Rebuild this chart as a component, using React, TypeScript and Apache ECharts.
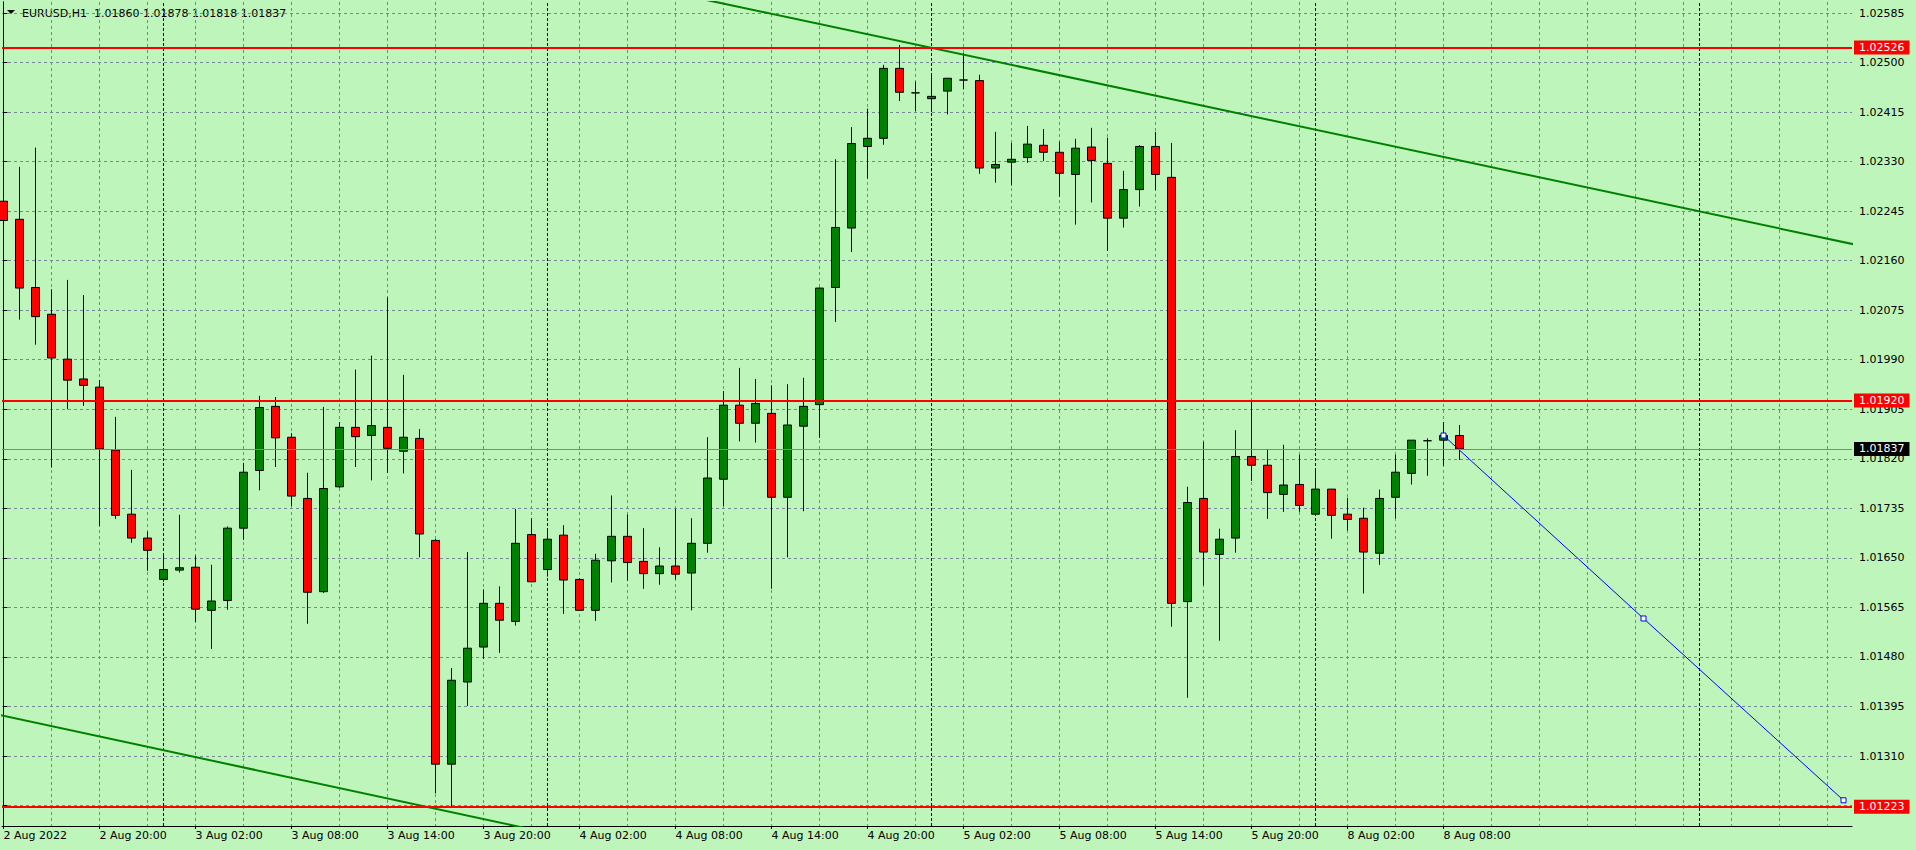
import React, { useEffect, useRef } from "react";
import * as echarts from "echarts";

// ---------- data ----------
const symbolName = "EURUSD,H1";

// bar index (0 = 2 Aug 2022 14:00, hourly bars, weekend skipped) of each time label
const xTickBars = [0, 6, 12, 18, 24, 30, 36, 42, 48, 54, 60, 66, 72, 78, 84, 90];
const xTickLabels = [
  "2 Aug 2022", "2 Aug 20:00", "3 Aug 02:00", "3 Aug 08:00", "3 Aug 14:00", "3 Aug 20:00",
  "4 Aug 02:00", "4 Aug 08:00", "4 Aug 14:00", "4 Aug 20:00", "5 Aug 02:00", "5 Aug 08:00",
  "5 Aug 14:00", "5 Aug 20:00", "8 Aug 02:00", "8 Aug 08:00",
];

const openPrices = [
  1.02262, 1.02231, 1.02114, 1.02068, 1.01991, 1.01957, 1.01943, 1.01835, 1.01725, 1.01684,
  1.01613, 1.01629, 1.01634, 1.01560, 1.01577, 1.01701, 1.01800, 1.01910, 1.01857, 1.01752,
  1.01592, 1.01772, 1.01874, 1.01860, 1.01874, 1.01833, 1.01855, 1.01680, 1.01296, 1.01437,
  1.01497, 1.01572, 1.01541, 1.01690, 1.01630, 1.01689, 1.01613, 1.01560, 1.01645, 1.01687,
  1.01644, 1.01623, 1.01636, 1.01624, 1.01675, 1.01785, 1.01912, 1.01881, 1.01898, 1.01754,
  1.01876, 1.01913, 1.02114, 1.02216, 1.02356, 1.02370, 1.02490, 1.02448, 1.02438, 1.02451,
  1.02470, 1.02469, 1.02319, 1.02329, 1.02337, 1.02358, 1.02346, 1.02308, 1.02355, 1.02327,
  1.02233, 1.02282, 1.02356, 1.02303, 1.01575, 1.01752, 1.01656, 1.01684, 1.01824, 1.01809,
  1.01759, 1.01776, 1.01725, 1.01768, 1.01725, 1.01718, 1.01658, 1.01754, 1.01795, 1.01851,
  1.01852, 1.01860,
];
const highPrices = [
  1.02424, 1.02321, 1.02354, 1.02111, 1.02127, 1.02101, 1.01955, 1.01892, 1.01801, 1.01695,
  1.01656, 1.01724, 1.01654, 1.01638, 1.01704, 1.01813, 1.01928, 1.01926, 1.01864, 1.01796,
  1.01909, 1.01883, 1.01973, 1.01997, 1.02097, 1.01964, 1.01871, 1.01682, 1.01461, 1.01660,
  1.01596, 1.01601, 1.01734, 1.01718, 1.01697, 1.01706, 1.01615, 1.01657, 1.01757, 1.01724,
  1.01701, 1.01668, 1.01734, 1.01718, 1.01857, 1.01936, 1.01976, 1.01957, 1.01946, 1.01948,
  1.01959, 1.02114, 1.02334, 1.02389, 1.02421, 1.02496, 1.02530, 1.02467, 1.02480, 1.02473,
  1.02516, 1.02479, 1.02381, 1.02362, 1.02391, 1.02386, 1.02364, 1.02369, 1.02388, 1.02371,
  1.02314, 1.02358, 1.02381, 1.02362, 1.01772, 1.01849, 1.01700, 1.01869, 1.01919, 1.01837,
  1.01844, 1.01827, 1.01801, 1.01768, 1.01753, 1.01736, 1.01767, 1.01827, 1.01852, 1.01855,
  1.01883, 1.01878,
];
const lowPrices = [
  1.02186, 1.02059, 1.02016, 1.01805, 1.01905, 1.01911, 1.01705, 1.01717, 1.01676, 1.01628,
  1.01609, 1.01625, 1.01540, 1.01494, 1.01561, 1.01681, 1.01766, 1.01806, 1.01739, 1.01537,
  1.01590, 1.01770, 1.01806, 1.01783, 1.01796, 1.01795, 1.01651, 1.01246, 1.01224, 1.01396,
  1.01477, 1.01487, 1.01534, 1.01608, 1.01618, 1.01554, 1.01559, 1.01542, 1.01608, 1.01611,
  1.01597, 1.01604, 1.01613, 1.01560, 1.01659, 1.01739, 1.01850, 1.01848, 1.01597, 1.01651,
  1.01730, 1.01856, 1.02055, 1.02175, 1.02301, 1.02359, 1.02434, 1.02417, 1.02415, 1.02411,
  1.02454, 1.02309, 1.02294, 1.02289, 1.02328, 1.02331, 1.02270, 1.02222, 1.02260, 1.02177,
  1.02217, 1.02253, 1.02281, 1.01532, 1.01410, 1.01603, 1.01508, 1.01659, 1.01782, 1.01717,
  1.01729, 1.01729, 1.01722, 1.01683, 1.01697, 1.01589, 1.01638, 1.01718, 1.01776, 1.01791,
  1.01808, 1.01818,
];
const closePrices = [
  1.02229, 1.02113, 1.02064, 1.01993, 1.01955, 1.01946, 1.01837, 1.01723, 1.01684, 1.01663,
  1.01630, 1.01633, 1.01562, 1.01576, 1.01701, 1.01797, 1.01908, 1.01856, 1.01756, 1.01591,
  1.01769, 1.01874, 1.01858, 1.01877, 1.01838, 1.01857, 1.01691, 1.01296, 1.01440, 1.01495,
  1.01572, 1.01543, 1.01675, 1.01609, 1.01682, 1.01612, 1.01560, 1.01646, 1.01687, 1.01642,
  1.01623, 1.01636, 1.01622, 1.01675, 1.01787, 1.01912, 1.01881, 1.01915, 1.01754, 1.01878,
  1.01910, 1.02113, 1.02217, 1.02361, 1.02370, 1.02490, 1.02449, 1.02448, 1.02442, 1.02473,
  1.02470, 1.02319, 1.02325, 1.02334, 1.02360, 1.02346, 1.02310, 1.02353, 1.02332, 1.02233,
  1.02282, 1.02356, 1.02308, 1.01572, 1.01745, 1.01660, 1.01682, 1.01824, 1.01809, 1.01762,
  1.01775, 1.01740, 1.01768, 1.01723, 1.01716, 1.01660, 1.01752, 1.01797, 1.01852, 1.01851,
  1.01860, 1.01837,
];

// price scale labels
const yTickValues = [
  1.01225, 1.0131, 1.01395, 1.0148, 1.01565, 1.0165, 1.01735, 1.0182, 1.01905,
  1.0199, 1.02075, 1.0216, 1.02245, 1.0233, 1.02415, 1.025, 1.02585,
];
// vertical grid every 3 bars
const gridBars = [
  0, 3, 6, 9, 12, 15, 18, 21, 24, 27, 30, 33, 36, 39, 42, 45, 48, 51, 54, 57,
  60, 63, 66, 69, 72, 75, 78, 81, 84, 87, 90, 93, 96, 99, 102, 105, 108, 111, 114,
];
// day separators (midnight bars)
const daySeparatorBars = [10, 34, 58, 82, 106];

// horizontal levels
const levelPrices = [1.02526, 1.0192, 1.01223];

// trend lines: [bar index, price]
const upperTrend = [[44, 1.02607], [116, 1.02186]];
const lowerTrend = [[-1, 1.01385], [33, 1.01184]];
const blueTrend = [[90, 1.0186], [102.5, 1.01546], [115, 1.01234]];

// ---------- layout ----------
const W = 1916;
const H = 850;
const BG = "#BEF5BA";
const FONT = "DejaVu Sans";
const X_MIN = -0.09375;
const X_MAX = 115.53125;
const Y_MIN = 1.011899;
const Y_MAX = 1.026039;

const fmt = (v: number) => v.toFixed(5);

export default function App() {
  const ref = useRef<HTMLDivElement>(null);

  useEffect(() => {
    if (!ref.current) return;
    const chart = echarts.init(ref.current, null, { renderer: "svg", width: W, height: H });
    const last = closePrices.length - 1;
    const candles = openPrices.map((o, i) => [i, o, closePrices[i], lowPrices[i], highPrices[i]]);
    const header = `${symbolName}  ${fmt(openPrices[last])} ${fmt(highPrices[last])} ${fmt(lowPrices[last])} ${fmt(closePrices[last])}`;

    const boxLabel = (bg: string, value: number) => ({
      show: true,
      position: "end",
      distance: 2,
      formatter: fmt(value),
      backgroundColor: bg,
      color: "#ffffff",
      fontFamily: FONT,
      fontSize: 11,
      lineHeight: 12,
      padding: [1, 5, 1, 5],
    });

    const option: any = {
      animation: false,
      backgroundColor: BG,
      textStyle: { fontFamily: FONT, fontSize: 11 },
      grid: { left: 2, top: 2, right: W - 1852, bottom: H - 826, containLabel: false, outerBoundsMode: "none" },
      xAxis: [
        {
          type: "value",
          min: X_MIN,
          max: X_MAX,
          position: "bottom",
          axisLine: { show: true, lineStyle: { color: "#000", width: 1 } },
          axisTick: { show: false, customValues: gridBars },
          axisLabel: { show: false },
          splitLine: { show: true, lineStyle: { color: "#778899", width: 1, type: [3, 3] } },
        },
        {
          type: "value",
          min: X_MIN,
          max: X_MAX,
          position: "bottom",
          axisLine: { show: false },
          axisTick: { show: true, length: 3, customValues: xTickBars, lineStyle: { color: "#000" } },
          axisLabel: {
            show: true,
            customValues: xTickBars,
            margin: 4,
            align: "left",
            color: "#000",
            fontFamily: FONT,
            fontSize: 11,
            formatter: (v: number) => {
              const idx = xTickBars.indexOf(Math.round(v));
              return idx >= 0 ? xTickLabels[idx] : "";
            },
          },
          splitLine: { show: false },
        },
      ],
      yAxis: [
        {
          type: "value",
          min: Y_MIN,
          max: Y_MAX,
          position: "right",
          scale: true,
          axisLine: { show: true, lineStyle: { color: "#000", width: 1 } },
          axisTick: { show: true, inside: false, length: 4, customValues: yTickValues, lineStyle: { color: "#000" } },
          axisLabel: {
            show: true,
            customValues: yTickValues,
            margin: 7,
            color: "#000",
            fontFamily: FONT,
            fontSize: 11,
            formatter: (v: number) => (v < 1.0127 ? "" : fmt(v)),
          },
          splitLine: { show: true, lineStyle: { color: "#778899", width: 1, type: [3, 3] } },
        },
        {
          type: "value",
          min: Y_MIN,
          max: Y_MAX,
          position: "left",
          axisLine: { show: true, lineStyle: { color: "#000", width: 1 } },
          axisTick: { show: false },
          axisLabel: { show: false },
          splitLine: { show: false },
        },
      ],
      series: [
        {
          type: "line",
          name: "lowerTrend",
          data: lowerTrend,
          symbol: "none",
          silent: true,
          z: 3,
          clip: true,
          lineStyle: { color: "#008000", width: 2 },
          markLine: {
            silent: true,
            z: 1,
            symbol: "none",
            precision: 5,
            label: { show: false },
            lineStyle: { color: "#000000", width: 1, type: [3, 2] },
            data: daySeparatorBars.map((b) => ({ xAxis: b })),
          },
        },
        {
          type: "candlestick",
          name: symbolName,
          data: candles,
          dimensions: ["bar", "open", "close", "lowest", "highest"],
          encode: { x: 0, y: [1, 2, 3, 4] },
          barWidth: 9,
          clip: true,
          silent: true,
          z: 2,
          itemStyle: {
            color: "#008000",
            color0: "#ff0000",
            borderColor: "#000000",
            borderColor0: "#000000",
            borderColorDoji: "#000000",
            borderWidth: 1,
          },
        },
        {
          type: "line",
          name: "upperTrend",
          data: upperTrend,
          symbol: "none",
          silent: true,
          z: 3,
          clip: true,
          lineStyle: { color: "#008000", width: 2 },
          markLine: {
            silent: true,
            symbol: "none",
            precision: 5,
            z: 5,
            data: [
              ...levelPrices.map((p) => ({
                yAxis: p,
                lineStyle: { color: "#ff0000", width: 2, type: "solid" },
                label: boxLabel("#ff0000", p),
              })),
              {
                yAxis: closePrices[last],
                lineStyle: { color: "#778899", width: 1, type: "solid" },
                label: boxLabel("#000000", closePrices[last]),
              },
            ],
          },
        },
        {
          type: "line",
          name: "blueTrend",
          data: blueTrend,
          symbol: "rect",
          symbolSize: 5,
          showAllSymbol: true,
          silent: true,
          z: 4,
          clip: true,
          lineStyle: { color: "#0000ff", width: 1 },
          itemStyle: { color: "#ffffff", borderColor: "#0000ff", borderWidth: 1 },
        },
      ],
      graphic: [
        {
          type: "polygon",
          silent: true,
          shape: { points: [[7, 10], [15, 10], [11, 14]] },
          style: { fill: "#000000" },
        },
        {
          type: "text",
          x: 22,
          y: 13,
          silent: true,
          style: {
            text: header,
            fill: "#000000",
            fontFamily: FONT,
            fontSize: 11,
            verticalAlign: "middle",
          },
        },
      ],
    };

    chart.setOption(option);
    return () => chart.dispose();
  }, []);

  return (
    <div
      ref={ref}
      style={{ position: "fixed", left: 0, top: 0, width: W, height: H, background: BG }}
    />
  );
}
